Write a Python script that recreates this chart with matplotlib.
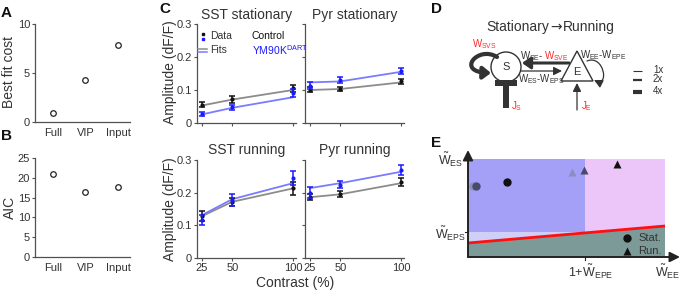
import matplotlib
matplotlib.use('Agg')
import matplotlib.pyplot as plt
from matplotlib.patches import Rectangle, Polygon, Circle, FancyArrowPatch
from matplotlib.path import Path

plt.rcParams['font.family'] = ['Liberation Sans', 'DejaVu Sans']
plt.rcParams['mathtext.fontset'] = 'custom'
plt.rcParams['mathtext.rm'] = 'Liberation Sans'
plt.rcParams['mathtext.it'] = 'Liberation Sans:italic'
plt.rcParams['mathtext.bf'] = 'Liberation Sans:bold'

# ---------------- data ----------------
models = ['Full', 'VIP', 'Input']
best_fit_cost = [0.9, 4.3, 7.9]
aic = [21.0, 16.3, 17.8]

contrast = [25, 50, 100]
contrast_ticks = [25, 50, 100]
amp_ticks = [0, 0.1, 0.2, 0.3]
amp_ticklabels = ['0', '0.1', '0.2', '0.3']

sst_stat_ctrl = [0.056, 0.072, 0.105]
sst_stat_ctrl_err = [0.009, 0.010, 0.010]
sst_stat_ctrl_fit = [0.053, 0.071, 0.100]
sst_stat_ym = [0.028, 0.047, 0.090]
sst_stat_ym_err = [0.006, 0.007, 0.012]
sst_stat_ym_fit = [0.026, 0.046, 0.078]

pyr_stat_ctrl = [0.101, 0.103, 0.126]
pyr_stat_ctrl_err = [0.007, 0.006, 0.008]
pyr_stat_ctrl_fit = [0.100, 0.103, 0.123]
pyr_stat_ym = [0.113, 0.130, 0.157]
pyr_stat_ym_err = [0.011, 0.009, 0.010]
pyr_stat_ym_fit = [0.123, 0.126, 0.155]

sst_run_ctrl = [0.128, 0.172, 0.213]
sst_run_ctrl_err = [0.015, 0.012, 0.020]
sst_run_ctrl_fit = [0.128, 0.172, 0.213]
sst_run_ym = [0.116, 0.178, 0.244]
sst_run_ym_err = [0.016, 0.018, 0.022]
sst_run_ym_fit = [0.131, 0.180, 0.229]

pyr_run_ctrl = [0.186, 0.196, 0.232]
pyr_run_ctrl_err = [0.009, 0.010, 0.012]
pyr_run_ctrl_fit = [0.186, 0.195, 0.229]
pyr_run_ym = [0.200, 0.225, 0.270]
pyr_run_ym_err = [0.017, 0.012, 0.015]
pyr_run_ym_fit = [0.214, 0.229, 0.264]

# panel E schematic values (axis units)
e_x_split = 117
e_x_end = 197
e_y_top = 98
e_y_eps = 25
e_red_line_x = [0, 197]
e_red_line_y = [14, 31]
stat_x = [5, 8, 39]
stat_y = [71, 71, 75]
run_x = [104, 116, 149]
run_y = [85, 87, 93]
pt_colors = ['#8c8cc0', '#4a4a6a', '#111111']

# ---------------- figure ----------------
W, H = 680, 291
fig = plt.figure(figsize=(6.8, 2.91), dpi=100)

def box(l, t, r, b):
    return fig.add_axes([l / W, 1 - b / H, (r - l) / W, (b - t) / H])

SP = '#505050'
TXT = '#333333'

def style(ax):
    for s in ['top', 'right']:
        ax.spines[s].set_visible(False)
    for s in ['left', 'bottom']:
        ax.spines[s].set_color(SP)
        ax.spines[s].set_linewidth(0.9)
    ax.tick_params(colors=SP, labelcolor=TXT, labelsize=8, length=2.5, width=0.8)

# A
axA = box(35, 24, 130, 122)
style(axA)
axA.plot([1, 2, 3], best_fit_cost, 'o', ms=4, mfc='white', mec='#222222', mew=0.9, clip_on=False)
axA.set_xlim(0.45, 3.37)
axA.set_ylim(0, 10)
axA.set_yticks([0, 5, 10])
axA.set_xticks([1, 2, 3])
axA.set_xticklabels(models)
axA.tick_params(axis='x', length=0, pad=4)
axA.tick_params(axis='y', pad=1.5, length=2)

# B
axB = box(35, 158, 130, 257)
style(axB)
axB.plot([1, 2, 3], aic, 'o', ms=4, mfc='white', mec='#222222', mew=0.9, clip_on=False)
axB.set_xlim(0.45, 3.37)
axB.set_ylim(0, 25)
axB.set_yticks([0, 5, 10, 15, 20, 25])
axB.set_xticks([1, 2, 3])
axB.set_xticklabels(models)
axB.tick_params(axis='x', length=0, pad=4)
axB.tick_params(axis='y', pad=1.5, length=2)

# C
BLK = '#111111'
BLU = '#1a1aff'
GRY = '#8c8c8c'
LBL = '#7b7bff'

def cpanel(box_px, ctrl, ctrl_err, ctrl_fit, ym, ym_err, ym_fit, ylabels, xlabels):
    ax = box(*box_px)
    style(ax)
    ax.plot(contrast, ctrl_fit, color=GRY, lw=1.3, zorder=2)
    ax.plot(contrast, ym_fit, color=LBL, lw=1.3, zorder=2)
    ax.errorbar(contrast, ctrl, yerr=ctrl_err, fmt='o', ms=2, color=BLK, ecolor=BLK,
                elinewidth=1.1, capsize=2, capthick=1.1, zorder=3)
    ax.errorbar(contrast, ym, yerr=ym_err, fmt='o', ms=2, color=BLU, ecolor=BLU,
                elinewidth=1.1, capsize=2, capthick=1.1, zorder=4)
    ax.set_xlim(21, 102.5)
    ax.set_ylim(0, 0.3)
    ax.set_yticks(amp_ticks)
    ax.set_xticks(contrast_ticks)
    if ylabels:
        ax.set_yticklabels(amp_ticklabels)
    else:
        ax.set_yticklabels([])
    if xlabels:
        ax.set_xticklabels([str(c) for c in contrast_ticks])
    else:
        ax.set_xticklabels([])
    ax.tick_params(labelsize=8, length=2, pad=1.5)
    return ax

cpanel((197, 24, 296, 123), sst_stat_ctrl, sst_stat_ctrl_err, sst_stat_ctrl_fit,
       sst_stat_ym, sst_stat_ym_err, sst_stat_ym_fit, True, False)
cpanel((305, 24, 404, 123), pyr_stat_ctrl, pyr_stat_ctrl_err, pyr_stat_ctrl_fit,
       pyr_stat_ym, pyr_stat_ym_err, pyr_stat_ym_fit, False, False)
cpanel((197, 160, 296, 258), sst_run_ctrl, sst_run_ctrl_err, sst_run_ctrl_fit,
       sst_run_ym, sst_run_ym_err, sst_run_ym_fit, True, True)
cpanel((305, 160, 404, 258), pyr_run_ctrl, pyr_run_ctrl_err, pyr_run_ctrl_fit,
       pyr_run_ym, pyr_run_ym_err, pyr_run_ym_fit, False, True)

# E
axE = box(468, 152, 678, 257)
axE.set_xlim(0, 210)
axE.set_ylim(0, 105)
axE.axis('off')
axE.add_patch(Rectangle((0, 0), e_x_split, e_y_eps, color='#cfcff8', lw=0))
axE.add_patch(Rectangle((0, e_y_eps), e_x_split, e_y_top - e_y_eps, color='#a4a0f8', lw=0))
axE.add_patch(Rectangle((e_x_split, 0), e_x_end - e_x_split, e_y_top, color='#ecc6f8', lw=0))
axE.add_patch(Polygon([(e_red_line_x[0], 0), (e_red_line_x[0], e_red_line_y[0]),
                       (e_red_line_x[1], e_red_line_y[1]), (e_red_line_x[1], 0)],
                      closed=True, color='#7c9a98', lw=0))
axE.plot(e_red_line_x, e_red_line_y, color='#ff1010', lw=2, solid_capstyle='butt')
for x, y, c in zip(stat_x, stat_y, pt_colors):
    axE.plot(x, y, 'o', ms=6, color=c, mec='none', zorder=5)
for x, y, c in zip(run_x, run_y, pt_colors):
    axE.plot(x, y, '^', ms=6, color=c, mec='none', zorder=5)
axE.plot(159, 19, 'o', ms=6, color='#111111', mec='none')
axE.plot(159, 6, '^', ms=6, color='#111111', mec='none')
axE.text(170, 19, 'Stat.', fontsize=8, color=TXT, va='center')
axE.text(170, 6, 'Run.', fontsize=8, color=TXT, va='center')
axE.annotate('', xy=(0, 107), xytext=(0, 0), annotation_clip=False,
             arrowprops=dict(arrowstyle='-|>,head_length=0.6,head_width=0.3', lw=1.4, color='#222222',
                             shrinkA=0, shrinkB=0))
axE.annotate('', xy=(212, 0), xytext=(0, 0), annotation_clip=False,
             arrowprops=dict(arrowstyle='-|>,head_length=0.6,head_width=0.3', lw=1.4, color='#222222',
                             shrinkA=0, shrinkB=0))
axE.plot([e_x_split, e_x_split], [0, -3], color='#222222', lw=0.8, clip_on=False)
axE.plot([0, -3], [e_y_eps, e_y_eps], color='#222222', lw=0.8, clip_on=False)

# overlay for texts and schematic D
ov = fig.add_axes([0, 0, 1, 1])
ov.set_xlim(0, W)
ov.set_ylim(H, 0)
ov.set_facecolor('none')
ov.axis('off')

def t(x, y, s, **kw):
    kw.setdefault('color', TXT)
    ov.text(x, y, s, **kw)

# panel letters
for (x, y, s) in [(1, 17, 'A'), (1, 140, 'B'), (159, 13, 'C'), (431, 13, 'D'), (431, 147, 'E')]:
    ov.text(x, y, s, fontsize=11, fontweight='bold', color='#111111', va='baseline', ha='left')

# A/B/C labels
t(9, 72, 'Best fit cost', fontsize=10, rotation=90, ha='center', va='center')
t(10, 207, 'AIC', fontsize=10, rotation=90, ha='center', va='center')
t(170, 72, 'Amplitude (dF/F)', fontsize=10, rotation=90, ha='center', va='center')
t(170, 209, 'Amplitude (dF/F)', fontsize=10, rotation=90, ha='center', va='center')
t(295, 283, 'Contrast (%)', fontsize=10, ha='center', va='center')
t(247, 15, 'SST stationary', fontsize=10, ha='center', va='center')
t(355, 15, 'Pyr stationary', fontsize=10, ha='center', va='center')
t(247, 150, 'SST running', fontsize=10, ha='center', va='center')
t(355, 150, 'Pyr running', fontsize=10, ha='center', va='center')

# C legend
ov.plot([203], [34], 's', ms=1.8, color=BLK)
ov.plot([203], [38.5], 's', ms=1.8, color=BLU)
ov.plot([198, 207], [48.5, 48.5], color=GRY, lw=1.1)
ov.plot([198, 207], [51.5, 51.5], color=LBL, lw=1.1)
t(210, 36, 'Data', fontsize=7.5, va='center', ha='left')
t(210, 50, 'Fits', fontsize=7.5, va='center', ha='left')
t(252, 36, 'Control', fontsize=7.5, va='center', ha='left', color='#111111')
t(252, 50, r'YM90K$^{\mathrm{DART}}$', fontsize=7.5, va='center', ha='left', color=BLU)

# D schematic
RED = '#ff2a2a'
DK = '#333333'
t(549, 27, 'Stationary', fontsize=10, ha='right', va='center')
t(556, 27, '\u2192', fontsize=10, ha='center', va='center', family='DejaVu Sans')
t(563, 27, 'Running', fontsize=10, ha='left', va='center')
ov.add_patch(Circle((506, 67), 15, fill=False, ec=DK, lw=1))
t(506, 67, 'S', fontsize=8, ha='center', va='center')
ov.add_patch(Polygon([(577, 51), (561, 81), (593, 81)], closed=True, fill=False, ec=DK, lw=1))
t(577, 72, 'E', fontsize=8, ha='center', va='center')

ov.add_patch(FancyArrowPatch((569, 63), (522, 63), arrowstyle='-|>,head_length=0.5,head_width=0.35',
                             mutation_scale=10, lw=2.2, color=DK, shrinkA=0, shrinkB=0))
ov.add_patch(FancyArrowPatch((521, 71), (562, 71), arrowstyle='-|>,head_length=0.5,head_width=0.25',
                             mutation_scale=10, lw=0.9, color=DK, shrinkA=0, shrinkB=0))
loopS = Path([(497, 57), (478, 45), (455, 72), (491, 73)],
             [Path.MOVETO, Path.CURVE4, Path.CURVE4, Path.CURVE4])
ov.add_patch(FancyArrowPatch(path=loopS, arrowstyle='-|>,head_length=0.45,head_width=0.35',
                             mutation_scale=10, lw=3, color=DK))
loopE = Path([(587, 61), (604, 54), (610, 88), (594, 80)],
             [Path.MOVETO, Path.CURVE4, Path.CURVE4, Path.CURVE4])
ov.add_patch(FancyArrowPatch(path=loopE, arrowstyle='-|>,head_length=0.5,head_width=0.25',
                             mutation_scale=10, lw=0.9, color=DK))
ov.add_patch(Rectangle((495, 80), 22, 6, color=DK, lw=0))
ov.add_patch(Rectangle((503, 84), 6, 24, color=DK, lw=0))
ov.add_patch(FancyArrowPatch((577, 110), (577, 83), arrowstyle='-|>,head_length=0.5,head_width=0.25',
                             mutation_scale=10, lw=0.9, color=DK, shrinkA=0, shrinkB=0))

t(484, 44, r'$\mathrm{W_{SVS}}$', fontsize=7, color=RED, ha='center', va='center')
t(544, 56, r'$\mathrm{W_{SE}}$-', fontsize=7, ha='right', va='center')
t(544, 56, r'$\mathrm{W_{SVE}}$', fontsize=7, color=RED, ha='left', va='center')
t(541, 79, r'$\mathrm{W_{ES}}$-$\mathrm{W_{EPS}}$', fontsize=7, ha='center', va='center')
t(603, 55, r'$\mathrm{W_{EE}}$-$\mathrm{W_{EPE}}$', fontsize=7, ha='center', va='center')
t(511, 106, r'$\mathrm{J_{S}}$', fontsize=7, color=RED, ha='left', va='center')
t(581, 106, r'$\mathrm{J_{E}}$', fontsize=7, color=RED, ha='left', va='center')

for y, lw, s in [(70.5, 0.8, '1x'), (80, 1.6, '2x'), (91.5, 3.0, '4x')]:
    ov.plot([633, 642], [y, y], color=DK, lw=lw, solid_capstyle='butt')
t(653, 70, '1x', fontsize=7, ha='left', va='center')
t(653, 79, '2x', fontsize=7, ha='left', va='center')
t(653, 91, '4x', fontsize=7, ha='left', va='center')

# E labels
t(451, 160, r'$\tilde{\mathrm{W}}_{\mathrm{ES}}$', fontsize=9, ha='center', va='center')
t(450, 234, r'$\tilde{\mathrm{W}}_{\mathrm{EPS}}$', fontsize=9, ha='center', va='center')
t(591, 272, r'1+$\tilde{\mathrm{W}}_{\mathrm{EPE}}$', fontsize=9, ha='center', va='center')
t(668, 272, r'$\tilde{\mathrm{W}}_{\mathrm{EE}}$', fontsize=9, ha='center', va='center')

fig.savefig('out.png', dpi=100)
